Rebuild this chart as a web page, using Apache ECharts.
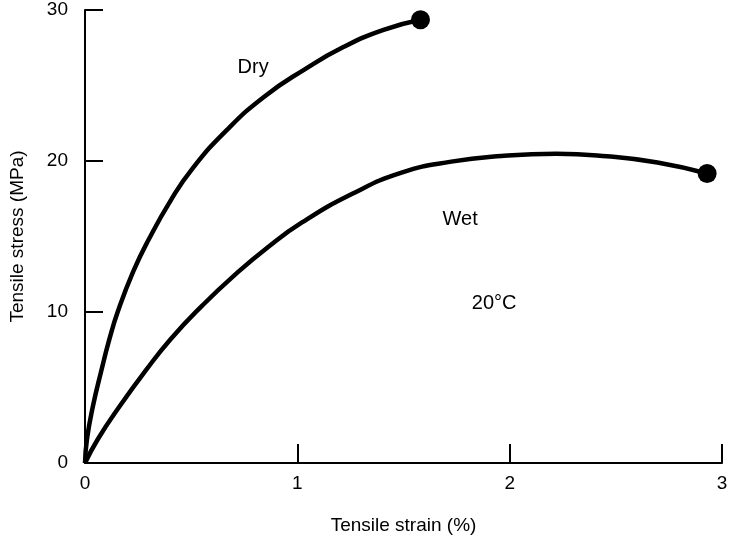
<!DOCTYPE html>
<html>
<head>
<meta charset="utf-8">
<script src="https://cdn.jsdelivr.net/npm/echarts@6/dist/echarts.min.js"></script>
<style>
  html, body { margin: 0; padding: 0; background: #fff; }
  #main { width: 732px; height: 540px; }
</style>
</head>
<body>
<div id="main"></div>
<script>
// strain (%) and stress (MPa)
var dryStrain = [0, 0.0094, 0.0375, 0.075, 0.1149, 0.155, 0.2274, 0.300, 0.4032, 0.506, 0.670, 0.844, 1.031, 1.219, 1.406, 1.580];
var dryStress = [0, 1.59, 3.77, 6.01, 8.2, 10.05, 12.69, 14.8, 17.38, 19.5, 22.08, 24.26, 26.04, 27.56, 28.68, 29.35];

var wetStrain = [0, 0.061, 0.164, 0.2836, 0.403, 0.5532, 0.703, 0.8626, 1.022, 1.2565, 1.491, 1.725, 1.960, 2.22, 2.457, 2.696, 2.930];
var wetStress = [0, 1.59, 3.77, 6.08, 8.2, 10.44, 12.43, 14.31, 15.93, 17.81, 19.23, 19.96, 20.33, 20.48, 20.31, 19.9, 19.17];

var xTicks = [0, 1, 2, 3];
var yTicks = [0, 10, 20, 30];

var notes = [
  { text: 'Dry', x: 0.792, y: 26.17 },
  { text: 'Wet', x: 1.767, y: 16.13 },
  { text: '20°C', x: 1.927, y: 10.57 }
];

function pairs(xs, ys) {
  return xs.map(function (x, i) { return [x, ys[i]]; });
}

var font = 'Liberation Sans, Arial, Helvetica, sans-serif';

var myChart = echarts.init(document.getElementById('main'));
var option = {
  animation: false,
  grid: { left: 82, right: 10, top: 10, bottom: 76 },
  xAxis: {
    type: 'value',
    min: xTicks[0],
    max: xTicks[xTicks.length - 1],
    interval: 1,
    name: 'Tensile strain (%)',
    nameLocation: 'middle',
    nameGap: 53,
    nameTextStyle: { color: '#000', fontSize: 19, fontFamily: font },
    axisLine: { lineStyle: { color: '#000', width: 2 } },
    axisTick: { inside: true, length: 19, lineStyle: { color: '#000', width: 2 } },
    axisLabel: { color: '#000', fontSize: 19, fontFamily: font, margin: 11 },
    splitLine: { show: false }
  },
  yAxis: {
    type: 'value',
    min: yTicks[0],
    max: yTicks[yTicks.length - 1],
    interval: 10,
    name: 'Tensile stress (MPa)',
    nameLocation: 'middle',
    nameGap: 58,
    nameTextStyle: { color: '#000', fontSize: 19, fontFamily: font },
    axisLine: { show: true, lineStyle: { color: '#000', width: 2 } },
    axisTick: { show: true, inside: true, length: 18, lineStyle: { color: '#000', width: 2 } },
    axisLabel: { color: '#000', fontSize: 19, fontFamily: font, margin: 17 },
    splitLine: { show: false }
  },
  series: [
    {
      name: 'Dry',
      type: 'line',
      data: pairs(dryStrain, dryStress),
      smooth: 0.5,
      symbol: 'none',
      lineStyle: { color: '#000', width: 4.5 }
    },
    {
      name: 'Wet',
      type: 'line',
      data: pairs(wetStrain, wetStress),
      smooth: 0.5,
      symbol: 'none',
      lineStyle: { color: '#000', width: 4.5 }
    },
    {
      name: 'Failure',
      type: 'scatter',
      symbolSize: 19,
      itemStyle: { color: '#000', opacity: 1 },
      data: [
        [dryStrain[dryStrain.length - 1], dryStress[dryStress.length - 1]],
        [wetStrain[wetStrain.length - 1], wetStress[wetStress.length - 1]]
      ]
    },
    {
      name: 'Notes',
      type: 'scatter',
      symbolSize: 0,
      silent: true,
      itemStyle: { opacity: 1 },
      data: notes.map(function (n) { return { value: [n.x, n.y], name: n.text }; }),
      label: {
        show: true,
        position: 'inside',
        formatter: '{b}',
        color: '#000',
        fontSize: 20,
        fontFamily: font
      }
    }
  ]
};
myChart.setOption(option);
</script>
</body>
</html>
